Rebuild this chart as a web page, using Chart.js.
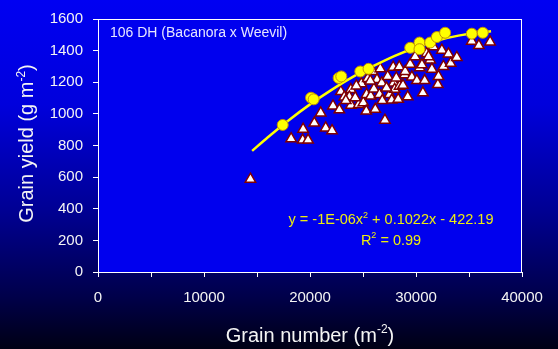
<!DOCTYPE html>
<html><head><meta charset="utf-8">
<script src="https://cdn.jsdelivr.net/npm/chart.js@4.4.0/dist/chart.umd.min.js"></script>
<style>html,body{margin:0;padding:0;background:#000;overflow:hidden}</style>
</head><body>
<canvas id="c" width="558" height="349"></canvas>
<script>
// ---- data ----
const triX = [14380,18220,19310,19820,19350,20410,21010,21480,22080,22170,22770,22910,23240,23850,23870,24600,24840,25030,25310,25340,25450,25730,25920,26030,26160,26320,26560,26630,26770,26820,27070,27330,27520,27710,27850,27900,27990,28320,28420,28450,28770,28940,28980,29220,29450,29610,29920,30080,30350,30560,30650,30820,31010,31340,31500,31650,32060,32120,32440,32590,33060,33270,33850,35260,35930,36990,31180,23710,23380,24270,24370,25690,27220,28140];
const triY = [587,843,834,834,903,942,1006,911,894,1050,1026,1141,1107,1154,1055,1060,1191,1071,1018,1123,1224,1113,1268,1158,1029,1217,1123,1286,1196,1084,960,1237,1123,1087,1295,1196,1155,1092,1298,1175,1181,1247,1268,1108,1314,1233,1362,1211,1292,1310,1133,1211,1382,1341,1283,1424,1185,1237,1403,1300,1379,1320,1357,1460,1432,1455,1362,1107,1084,1102,1177,1208,1164,1227];
const circX = [17425,20100,20345,22700,22954,24743,25525,29453,30329,30329,31337,31968,32750,35264,36300];
const circY = [930,1102,1092,1227,1237,1268,1285,1418,1451,1409,1451,1486,1513,1507,1513];
const trendX = [14540,16000,18000,20000,22000,24000,26000,28000,30000,32000,34000,36000,37080];
const trendY = [766,851,960,1060,1150,1232,1303,1367,1420,1464,1495,1515,1522];
const xTickLabels = [0,10000,20000,30000,40000];
const yTickLabels = [0,200,400,600,800,1000,1200,1400,1600];
const panelLabel = '106 DH (Bacanora x Weevil)';
const eqParts = [['y = -1E-06x',0],['2',1],[' + 0.1022x - 422.19',0]];
const r2Parts = [['R',0],['2',1],[' = 0.99',0]];
const xTitleParts = [['Grain number (m',0],['-2',1],[')',0]];
const yTitleParts = [['Grain yield (g m',0],['-2',1],[')',0]];

const FONT = '"Liberation Sans", Arial, sans-serif';
const toPts = (xs, ys) => xs.map((x, i) => ({x, y: ys[i]}));

function drawRich(ctx, parts, x, y, size, color, align) {
  ctx.save();
  ctx.fillStyle = color;
  ctx.textBaseline = 'alphabetic';
  ctx.textAlign = 'left';
  const supSize = Math.round(size * 0.62);
  let w = 0;
  const ws = parts.map(p => {
    ctx.font = (p[1] ? supSize : size) + 'px ' + FONT;
    const m = ctx.measureText(p[0]).width; w += m; return m;
  });
  let cx = align === 'center' ? x - w / 2 : x;
  parts.forEach((p, i) => {
    ctx.font = (p[1] ? supSize : size) + 'px ' + FONT;
    ctx.fillText(p[0], cx, p[1] ? y - size * 0.42 : y);
    cx += ws[i];
  });
  ctx.restore();
}

const deco = {
  id: 'deco',
  beforeDraw(chart) {
    const {ctx, width, height, chartArea: a} = chart;
    const g = ctx.createLinearGradient(0, 0, 0, height);
    g.addColorStop(0, '#0000f2');
    g.addColorStop(0.3, '#0000dc');
    g.addColorStop(0.6, '#000094');
    g.addColorStop(0.85, '#00004a');
    g.addColorStop(1, '#000014');
    ctx.save();
    ctx.fillStyle = g;
    ctx.fillRect(0, 0, width, height);
    ctx.fillStyle = '#0000ee';
    ctx.fillRect(a.left, a.top, a.right - a.left, a.bottom - a.top);
    ctx.restore();
  },
  afterDraw(chart) {
    const {ctx, chartArea: a} = chart;
    ctx.save();
    ctx.strokeStyle = '#ffffff';
    ctx.lineWidth = 1;
    ctx.strokeRect(Math.round(a.left) + 0.5, Math.round(a.top) + 0.5, Math.round(a.right - a.left) - 1, Math.round(a.bottom - a.top));
    ctx.restore();
    drawRich(ctx, [[panelLabel, 0]], 110, 36.5, 14, '#e6e6ff', 'left');
    drawRich(ctx, eqParts, 391, 224, 14.5, '#ecec10', 'center');
    drawRich(ctx, r2Parts, 391, 244.5, 14.5, '#ecec10', 'center');
    drawRich(ctx, xTitleParts, 310, 341.5, 20, '#f4f4f4', 'center');
    ctx.save();
    ctx.translate(33.3, 143.5);
    ctx.rotate(-Math.PI / 2);
    drawRich(ctx, yTitleParts, 0, 0, 20, '#f4f4f4', 'center');
    ctx.restore();
  }
};

new Chart(document.getElementById('c'), {
  type: 'scatter',
  data: {
    datasets: [
      {
        label: 'top',
        data: toPts(circX, circY),
        order: 0,
        pointStyle: 'circle',
        pointRadius: 5.5,
        backgroundColor: '#ffff00',
        borderColor: '#c09000',
        borderWidth: 1
      },
      {
        label: 'trend',
        data: toPts(trendX, trendY),
        order: 1,
        showLine: true,
        cubicInterpolationMode: 'monotone',
        pointRadius: 0,
        borderColor: '#ffff00',
        borderWidth: 2.5,
        fill: false
      },
      {
        label: 'all',
        data: toPts(triX, triY),
        order: 2,
        pointStyle: 'triangle',
        pointRadius: 6,
        backgroundColor: '#ffffff',
        borderColor: '#800000',
        borderWidth: 1.5
      }
    ]
  },
  options: {
    responsive: false,
    animation: false,
    events: [],
    layout: {padding: {left: 0, top: 15, right: 36, bottom: 0}},
    plugins: {legend: {display: false}, tooltip: {enabled: false}},
    scales: {
      x: {
        type: 'linear', min: 0, max: 40000,
        afterFit(s) { s.height = 77; },
        afterBuildTicks(s) { s.ticks = []; for (let v = 0; v <= 40000; v += 5000) s.ticks.push({value: v}); },
        ticks: {
          autoSkip: false, maxRotation: 0,
          color: '#f4f4f4', font: {family: FONT, size: 15}, padding: 12,
          callback: v => xTickLabels.includes(v) ? String(v) : ''
        },
        grid: {display: true, drawOnChartArea: false, drawTicks: true, tickLength: 5, color: '#ffffff'},
        border: {display: true, color: '#ffffff', width: 1}
      },
      y: {
        type: 'linear', min: 0, max: 1600,
        afterFit(s) { s.width = 98; },
        afterBuildTicks(s) { s.ticks = yTickLabels.map(v => ({value: v})); },
        ticks: {color: '#f4f4f4', font: {family: FONT, size: 15}, padding: 10, callback: v => String(v)},
        grid: {display: true, drawOnChartArea: false, drawTicks: true, tickLength: 5, color: '#ffffff'},
        border: {display: true, color: '#ffffff', width: 1}
      }
    }
  },
  plugins: [deco]
});
</script>
</body></html>
